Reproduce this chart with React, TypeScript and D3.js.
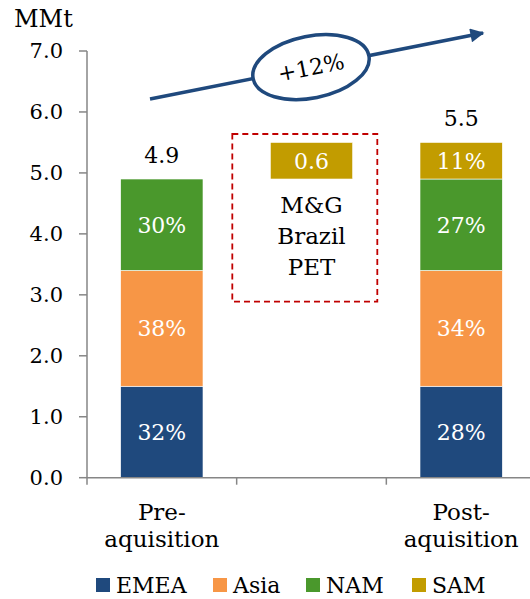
import React from "react";
import * as d3 from "d3";

const categories = ["Pre-|aquisition", "", "Post-|aquisition"];
const offset = [0, 4.9, 0];
const emea = [1.5, 0, 1.5];
const asia = [1.9, 0, 1.9];
const nam = [1.5, 0, 1.5];
const sam = [0, 0.6, 0.6];
const emeaLabels = ["32%", "", "28%"];
const asiaLabels = ["38%", "", "34%"];
const namLabels = ["30%", "", "27%"];
const samLabels = ["", "0.6", "11%"];
const totals = ["4.9", "", "5.5"];
const yTicks = [0, 1, 2, 3, 4, 5, 6, 7];
const seriesNames = ["EMEA", "Asia", "NAM", "SAM"];
const growthLabel = "+12%";
const boxLines = ["M&G", "Brazil", "PET"];

const W = 530;
const H = 599;
const FONT = "'DejaVu Serif', Georgia, serif";
const colors: Record<string, string> = {
  EMEA: "#1F497D",
  Asia: "#F79646",
  NAM: "#4A982C",
  SAM: "#C29C00",
};

export default function App() {
  const y = d3.scaleLinear().domain([0, 7]).range([477.7, 51]);
  const x = d3
    .scaleBand<number>()
    .domain(categories.map((_, i) => i))
    .range([87, 536])
    .paddingInner(0.45)
    .paddingOuter(0.225);

  const rows = categories.map((_, i) => ({
    offset: offset[i],
    EMEA: emea[i],
    Asia: asia[i],
    NAM: nam[i],
    SAM: sam[i],
  }));
  const stack = d3.stack<any>().keys(["offset", ...seriesNames]);
  const stacked = stack(rows);
  const labelMap: Record<string, string[]> = {
    EMEA: emeaLabels,
    Asia: asiaLabels,
    NAM: namLabels,
    SAM: samLabels,
  };

  const step = x.step();
  const x0 = 87;
  const boundaries = [0, 1, 2, 3].map((i) => x0 + i * step);

  // growth arrow
  const ax0 = 150, ay0 = 99, ax1 = 483, ay1 = 33;
  const ang = (Math.atan2(ay1 - ay0, ax1 - ax0) * 180) / Math.PI;
  const ecx = 311;
  const ecy = ay0 + ((ay1 - ay0) * (ecx - ax0)) / (ax1 - ax0);

  const legendX = [96, 213, 306, 412];

  return (
    <svg
      width={W}
      height={H}
      style={{ position: "absolute", left: 0, top: 0, background: "#fff" }}
      fontFamily={FONT}
    >
      <defs>
        <marker
          id="ah"
          viewBox="0 0 10 10"
          refX="9"
          refY="5"
          markerWidth="4.2"
          markerHeight="4"
          orient="auto"
          markerUnits="strokeWidth"
        >
          <path d="M0,0 L10,5 L0,10 z" fill="#1F497D" />
        </marker>
      </defs>

      {/* bars */}
      {stacked
        .filter((s) => s.key !== "offset")
        .map((s) =>
          s.map((d, i) =>
            d[1] - d[0] > 0 ? (
              <rect
                key={s.key + i}
                x={x(i)}
                y={y(d[1])}
                width={x.bandwidth()}
                height={y(d[0]) - y(d[1])}
                fill={colors[s.key]}
                stroke="#fff"
                strokeWidth={0.6}
              />
            ) : null
          )
        )}
      {stacked
        .filter((s) => s.key !== "offset")
        .map((s) =>
          s.map((d, i) =>
            labelMap[s.key][i] ? (
              <text
                key={"l" + s.key + i}
                x={(x(i) as number) + x.bandwidth() / 2}
                y={(y(d[0]) + y(d[1])) / 2 + 8}
                textAnchor="middle"
                fontSize={22}
                fill="#fff"
              >
                {labelMap[s.key][i]}
              </text>
            ) : null
          )
        )}
      {/* totals */}
      {totals.map((t, i) =>
        t ? (
          <text
            key={"t" + i}
            x={(x(i) as number) + x.bandwidth() / 2}
            y={y(stacked[stacked.length - 1][i][1]) - 16}
            textAnchor="middle"
            fontSize={22}
            fill="#000"
          >
            {t}
          </text>
        ) : null
      )}

      {/* dashed box */}
      <rect
        x={232.3}
        y={134}
        width={145}
        height={167.7}
        fill="none"
        stroke="#C00000"
        strokeWidth={1.8}
        strokeDasharray="6,4"
      />
      {boxLines.map((t, k) => (
        <text
          key={"b" + k}
          x={(x(1) as number) + x.bandwidth() / 2}
          y={213 + k * 31}
          textAnchor="middle"
          fontSize={23}
          fill="#000"
        >
          {t}
        </text>
      ))}

      {/* axes */}
      <g stroke="#868686" strokeWidth={1.5} fill="none">
        <line x1={87} x2={87} y1={y(0)} y2={y(7)} />
        {yTicks.map((t) => (
          <line key={"yt" + t} x1={79} x2={87} y1={y(t)} y2={y(t)} />
        ))}
        <line x1={87} x2={536} y1={y(0)} y2={y(0)} />
        {boundaries.map((b, i) => (
          <line key={"xt" + i} x1={b} x2={b} y1={y(0)} y2={y(0) + 7} />
        ))}
      </g>
      {yTicks.map((t) => (
        <text
          key={"yl" + t}
          x={63}
          y={y(t) + 7}
          textAnchor="end"
          fontSize={21}
          fill="#000"
        >
          {d3.format(".1f")(t)}
        </text>
      ))}
      <text x={14} y={27} fontSize={24} fill="#000">
        MMt
      </text>
      {categories.map((c, i) =>
        c
          ? c.split("|").map((line, k) => (
              <text
                key={"c" + i + k}
                x={(x(i) as number) + x.bandwidth() / 2}
                y={520 + k * 27}
                textAnchor="middle"
                fontSize={23}
                fill="#000"
              >
                {line}
              </text>
            ))
          : null
      )}

      {/* growth arrow */}
      <line
        x1={ax0}
        y1={ay0}
        x2={ax1}
        y2={ay1}
        stroke="#1F497D"
        strokeWidth={3.5}
        markerEnd="url(#ah)"
      />
      <g transform={`translate(${ecx},${ecy}) rotate(${ang})`}>
        <ellipse rx={59} ry={31} fill="#fff" stroke="#1F497D" strokeWidth={3.5} />
        <text y={8} textAnchor="middle" fontSize={22} fill="#000">
          {growthLabel}
        </text>
      </g>

      {/* legend */}
      {seriesNames.map((s, i) => (
        <g key={"lg" + s}>
          <rect x={legendX[i]} y={578} width={14} height={14} fill={colors[s]} />
          <text x={legendX[i] + 20} y={593} fontSize={22} fill="#000">
            {s}
          </text>
        </g>
      ))}
    </svg>
  );
}
